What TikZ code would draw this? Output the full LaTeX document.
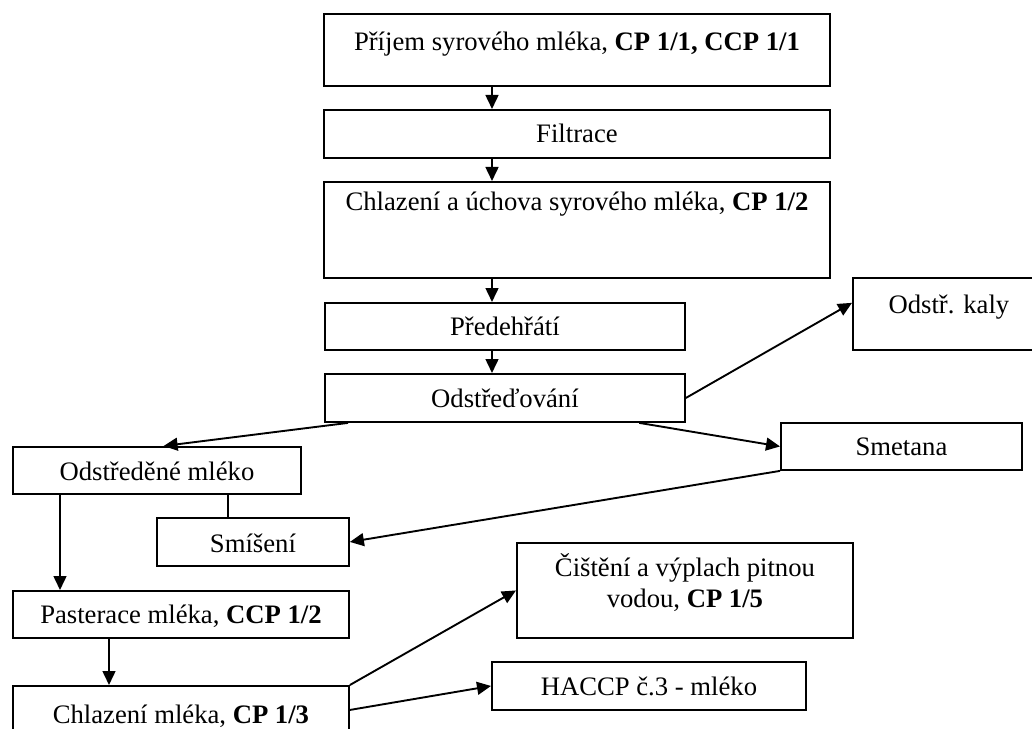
\documentclass[tikz,border=0pt]{standalone}
\usepackage{fontspec}
\setmainfont{Liberation Serif}
\usetikzlibrary{arrows.meta}

\begin{document}
\begin{tikzpicture}[x=0.45pt,y=-0.45pt,->,>={Triangle[length=6.3pt,width=5.8pt]},line width=0.85pt]
\tikzstyle{stepbox}=[draw,-,anchor=north west,inner sep=0pt,font=\fontsize{12}{13.8}\selectfont]
\path[use as bounding box,clip] (0,0) rectangle (1032,729);
% main line
\node[stepbox,minimum width=227.7pt,text height=16.65pt,text depth=15.75pt] (prijem) at (323,13) {Příjem syrového mléka, \textbf{CP 1/1, CCP 1/1}};
\node[stepbox,minimum width=227.7pt,text height=14.85pt,text depth=6.75pt] (filtrace) at (323,109) {Filtrace};
\node[stepbox,minimum width=227.7pt,text height=13.05pt,text depth=30.15pt] (chlazeni) at (323,181) {Chlazení a úchova syrového mléka, \textbf{CP 1/2}};
\node[stepbox,minimum width=162pt,text height=14.85pt,text depth=6.3pt] (predehrati) at (324,302) {Předehřátí};
\node[stepbox,minimum width=162pt,text height=15.3pt,text depth=6.3pt] (odstredovani) at (324,373) {Odstřeďování};
\node[stepbox,minimum width=86.4pt,text height=16.2pt,text depth=16.2pt] (kaly) at (852,277) {Odstř. kaly};
\node[stepbox,minimum width=108.45pt,text height=14.85pt,text depth=6.3pt] (smetana) at (780,422) {Smetana};
% skimmed milk branch
\node[stepbox,minimum width=129.6pt,text height=15.3pt,text depth=5.85pt] (odstredene) at (12,446) {Odstředěné mléko};
\node[stepbox,minimum width=86.4pt,text height=15.75pt,text depth=5.85pt] (smiseni) at (156,517) {Smíšení};
\node[stepbox,minimum width=151.2pt,text height=14.85pt,text depth=6.3pt] (pasterace) at (12,590) {Pasterace mléka, \textbf{CCP 1/2}};
\node[stepbox,minimum width=151.2pt,text height=17.1pt,text depth=4.5pt] (chlazeni2) at (12,685) {Chlazení mléka, \textbf{CP 1/3}};
\node[stepbox,minimum width=151.2pt,minimum height=42.75pt,align=center] (cisteni) at (516,542) {Čištění a výplach pitnou\\vodou, \textbf{CP 1/5}\\[-5pt]};
\node[stepbox,minimum width=141.3pt,text height=15.3pt,text depth=6.3pt] (haccp) at (491,661) {HACCP č.3 - mléko};
\coordinate (spine) at (492,0);
\coordinate (skim) at (60,0);
\coordinate (mix) at (228,0);
\coordinate (past) at (109,0);
\draw (prijem.south -| spine) -- (filtrace.north -| spine);
\draw (filtrace.south -| spine) -- (chlazeni.north -| spine);
\draw (chlazeni.south -| spine) -- (predehrati.north -| spine);
\draw (predehrati.south -| spine) -- (odstredovani.north -| spine);
\path (odstredovani.east) edge ([yshift=5pt]kaly.west)
      ([xshift=-21pt]odstredovani.south east) edge (smetana.west)
      ([xshift=10.8pt]odstredovani.south west) edge ([xshift=3pt]odstredene.north);
\draw (smetana.south west) -- (smiseni.east);
\draw[-] (odstredene.south -| mix) -- (smiseni.north -| mix);
\draw (odstredene.south -| skim) -- (pasterace.north -| skim);
\draw (pasterace.south -| past) -- (chlazeni2.north -| past);
\path (chlazeni2.north east) edge (cisteni.west)
      (chlazeni2.east) edge (haccp.west);
\end{tikzpicture}
\end{document}
